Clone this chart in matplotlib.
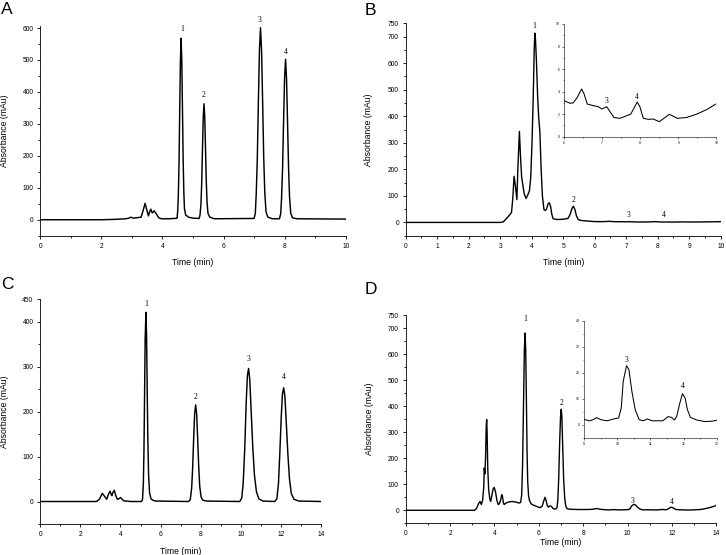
import matplotlib.pyplot as plt
from matplotlib.ticker import MultipleLocator

plt.rcParams['font.family'] = ['Liberation Sans', 'DejaVu Sans']

# ---- chromatogram A (time in min, absorbance in mAu) ----
tA = [0, 2.0, 2.4, 2.8, 2.9, 2.96, 3.05, 3.3, 3.37, 3.43, 3.49, 3.54, 3.58, 3.62,
      3.66, 3.68, 3.73, 3.80, 3.88, 3.97, 4.2, 4.4,
      4.48, 4.50, 4.52, 4.543, 4.565, 4.588, 4.61, 4.632, 4.655, 4.678, 4.70, 4.72, 4.76, 4.85, 5.0,
      5.20, 5.23, 5.26, 5.285, 5.31, 5.335, 5.36, 5.385, 5.41, 5.435, 5.46, 5.49, 5.55, 5.7,
      7.0, 7.04, 7.07, 7.105, 7.14, 7.175, 7.21, 7.245, 7.28, 7.315, 7.35, 7.39, 7.45, 7.6,
      7.83, 7.87, 7.90, 7.932, 7.965, 7.998, 8.03, 8.062, 8.095, 8.128, 8.16, 8.20, 8.26, 8.4, 10.0]
yA = [0, 0, 1, 3, 5, 8, 5, 8, 30, 51, 30, 12, 25, 33,
      22, 22, 28, 18, 6, 3, 3, 4,
      5, 30, 77, 180, 345, 500, 568, 500, 345, 185, 85, 35, 15, 8, 5,
      4, 15, 49, 116, 221, 320, 363, 320, 221, 120, 55, 20, 8, 3,
      4, 20, 81, 190, 367, 530, 601, 530, 367, 195, 85, 25, 8, 3,
      3, 18, 68, 160, 306, 442, 502, 442, 306, 165, 72, 20, 6, 3, 2]
labA_x = [4.63, 5.34, 7.19, 8.05]
labA_y = [596, 390, 625, 524]

# ---- chromatogram B ----
tB = [0, 3.0, 3.1, 3.2, 3.3, 3.36, 3.40, 3.44, 3.48, 3.53, 3.56, 3.61, 3.64, 3.68,
      3.76, 3.82, 3.88, 3.93, 3.97, 4.01, 4.05, 4.08, 4.10, 4.12, 4.15, 4.19, 4.22, 4.26,
      4.30, 4.34, 4.39, 4.43, 4.47, 4.52, 4.56, 4.60, 4.64, 4.68, 4.8, 5.0, 5.15, 5.22,
      5.27, 5.32, 5.37, 5.42, 5.48, 5.6, 5.8,
      6.0, 6.16, 6.24, 6.35, 6.46, 6.52, 6.61, 6.77, 6.90, 6.99, 7.12, 7.21, 7.31, 7.47,
      7.62, 7.75, 7.83, 7.92, 7.99, 8.08, 8.21, 8.34, 8.50, 8.62, 8.76, 8.86, 8.97, 9.21,
      9.48, 9.74, 10.0]
yB = [0, 0, 2, 15, 28, 38, 90, 174, 140, 86, 200, 343, 260, 172,
      109, 90, 105, 120, 170, 300, 480, 650, 713, 690, 610, 470, 400, 340,
      200, 100, 48, 45, 50, 70, 74, 60, 30, 14, 11, 12, 15, 30,
      50, 61, 50, 25, 10, 7, 5,
      3.2, 2.96, 3.0, 3.5, 4.23, 3.85, 2.9, 2.75, 2.66, 2.46, 2.66, 2.2, 1.7, 1.63,
      1.83, 2.0, 2.5, 3.08, 2.66, 1.63, 1.54, 1.57, 1.33, 1.63, 1.98, 1.83, 1.63, 1.7,
      2.0, 2.4, 2.93]
labB_x = [4.08, 5.32, 7.08, 8.2]
labB_y = [741, 84, 28, 28]
insB_lab_x = [7.12, 7.92]
insB_lab_y = [3.2, 3.5]

# ---- chromatogram C ----
tC = [0, 2.8, 2.95, 3.09, 3.2, 3.31, 3.40, 3.48, 3.53, 3.57, 3.62, 3.69, 3.76, 3.84,
      3.92, 4.0, 4.08, 4.17, 4.5, 5.0,
      5.05, 5.10, 5.14, 5.17, 5.20, 5.23, 5.27, 5.30, 5.33, 5.36, 5.40, 5.45, 5.52, 5.65, 5.8,
      7.40, 7.48, 7.55, 7.60, 7.65, 7.70, 7.75, 7.80, 7.85, 7.90, 7.95, 8.02, 8.10, 8.3,
      9.95, 10.05, 10.12, 10.20, 10.27, 10.33, 10.39, 10.45, 10.52, 10.60, 10.68, 10.78, 10.90, 11.1,
      11.70, 11.80, 11.88, 11.95, 12.02, 12.08, 12.14, 12.20, 12.27, 12.35, 12.43, 12.52, 12.65, 12.9, 14.0]
yC = [0, 0, 5, 18, 12, 5, 16, 23, 16, 13, 20, 25, 14, 5,
      6, 9, 5, 1.5, 0, 0,
      0, 5, 40, 110, 230, 360, 421, 370, 260, 150, 60, 20, 6, 2, 1,
      0, 4, 30, 75, 140, 195, 215, 195, 140, 80, 35, 10, 3, 1,
      0, 8, 40, 120, 220, 280, 296, 270, 200, 120, 60, 22, 6, 1,
      0, 6, 40, 110, 190, 240, 253, 235, 175, 105, 50, 18, 5, 1, 0]
labC_x = [5.3, 7.75, 10.39, 12.14]
labC_y = [439, 233, 317, 278]

# ---- chromatogram D ----
tD = [0, 3.1, 3.2, 3.28, 3.35, 3.41, 3.47, 3.52, 3.54, 3.57, 3.60, 3.63, 3.65, 3.67,
      3.70, 3.74, 3.79, 3.83, 3.88, 3.94, 3.99, 4.05, 4.12, 4.17, 4.22, 4.28, 4.33, 4.36,
      4.40, 4.44, 4.52, 4.65, 4.80, 4.95, 5.10, 5.18, 5.23, 5.27, 5.31, 5.35, 5.38, 5.41,
      5.44, 5.47, 5.50, 5.54, 5.58, 5.65, 5.75, 5.90, 6.05, 6.15, 6.22, 6.28, 6.33, 6.38,
      6.43, 6.46, 6.52, 6.57, 6.63, 6.70, 6.76, 6.82, 6.86, 6.90, 6.94, 6.98, 7.01, 7.04,
      7.08, 7.12, 7.17, 7.22, 7.28, 7.4, 7.8, 8.2, 8.45, 8.6, 8.75,
      9.03, 9.17, 9.27, 9.38, 9.51, 9.70, 9.89, 10.04, 10.12, 10.18, 10.28, 10.35, 10.44,
      10.54, 10.66, 10.79, 10.90, 11.05, 11.37, 11.53, 11.63, 11.72, 11.79, 11.87, 11.96,
      12.04, 12.11, 12.20, 12.39, 12.63, 12.83, 13.0, 13.3, 13.6, 13.85, 14.0]
yD = [0, 0, 8, 25, 34, 22, 40, 90, 162, 140, 200, 320, 349, 300,
      160, 80, 45, 34, 55, 82, 88, 70, 35, 22, 25, 40, 60, 55,
      30, 22, 28, 32, 34, 32, 28, 30, 60, 180, 400, 620, 681, 620,
      430, 230, 110, 55, 38, 25, 20, 15, 10, 15, 35, 50, 38, 18,
      12, 15, 17, 15, 8, 5, 5, 10, 40, 130, 260, 360, 388, 360,
      240, 120, 45, 15, 6, 4, 3, 3, 4, 7, 4,
      1.9, 1.5, 1.9, 2.7, 1.9, 1.5, 2.2, 2.6, 6.4, 16.7, 22.7, 21.2, 12.8,
      5.8, 1.9, 1.5, 2.2, 1.5, 1.5, 3.1, 2.8, 1.8, 3.2, 7.7, 11.9,
      10.3, 5.8, 2.8, 1.8, 1.2, 1.3, 1.7, 3, 8, 14, 19]
labD_x = [5.39, 7.03, 10.24, 12.0]
labD_y = [736, 413, 37, 31]
insD_lab_x = [10.28, 11.98]
insD_lab_y = [25, 14.7]

peak_names = ['1', '2', '3', '4']


def style(ax, xmaj, xmin, ymaj, ymin, size=4.8, lw=0.6):
    ax.spines['top'].set_visible(False)
    ax.spines['right'].set_visible(False)
    ax.spines['left'].set_linewidth(lw)
    ax.spines['bottom'].set_linewidth(lw)
    ax.xaxis.set_major_locator(MultipleLocator(xmaj))
    ax.xaxis.set_minor_locator(MultipleLocator(xmin))
    if ymaj is not None:
        ax.yaxis.set_major_locator(MultipleLocator(ymaj))
    ax.yaxis.set_minor_locator(MultipleLocator(ymin))
    ax.tick_params(which='major', direction='out', length=2.4, width=lw,
                   labelsize=size, pad=2.5)
    ax.tick_params(which='minor', direction='out', length=1.4, width=lw)


def labels(ax, xs, ys, names, size=5.5):
    for x, y, s in zip(xs, ys, names):
        ax.text(x, y, s, ha='center', va='center', fontsize=size,
                family=['Liberation Serif', 'DejaVu Serif'])


fig = plt.figure(figsize=(7.26, 5.55), dpi=100)

# panel A
axA = fig.add_axes([0.0555, 0.5753, 0.4207, 0.3771])
axA.plot(tA, yA, color='black', lw=1.05)
axA.set_xlim(0, 10)
axA.set_ylim(-50, 605)
style(axA, 2, 1, 100, 50)
axA.set_yticks([0, 100, 200, 300, 400, 500, 600])
labels(axA, labA_x, labA_y, peak_names)

# panel B
axB = fig.add_axes([0.5588, 0.5753, 0.4339, 0.3827])
axB.plot(tB, yB, color='black', lw=1.0)
axB.set_xlim(0, 10)
axB.set_ylim(-50, 750)
style(axB, 1, 0.5, None, 50)
axB.set_yticks([0, 100, 200, 300, 400, 500, 600, 700, 750])
labels(axB, labB_x, labB_y, peak_names)

insB = fig.add_axes([0.7769, 0.7537, 0.2100, 0.2031])
insB.plot(tB, yB, color='black', lw=0.75)
insB.set_xlim(6, 10)
insB.set_ylim(0, 10)
style(insB, 1, 0.5, 2, 1, size=2.4, lw=0.4)
insB.tick_params(which='major', length=1.5, pad=1.5)
insB.tick_params(which='minor', length=0.8)
labels(insB, insB_lab_x, insB_lab_y, ['3', '4'])

# panel C
axC = fig.add_axes([0.0555, 0.0559, 0.3866, 0.4049])
axC.plot(tC, yC, color='black', lw=1.05)
axC.set_xlim(0, 14)
axC.set_ylim(-50, 450)
style(axC, 2, 1, None, 50)
axC.set_yticks([0, 100, 200, 300, 400, 450])
labels(axC, labC_x, labC_y, peak_names)

# panel D
axD = fig.add_axes([0.5588, 0.0571, 0.4278, 0.3753])
axD.plot(tD, yD, color='black', lw=1.0)
axD.set_xlim(0, 14)
axD.set_ylim(-50, 750)
style(axD, 2, 1, None, 50)
axD.set_yticks([0, 100, 200, 300, 400, 500, 600, 700, 750])
labels(axD, labD_x, labD_y, peak_names)

insD = fig.add_axes([0.8044, 0.2114, 0.1832, 0.2108])
insD.plot(tD, yD, color='black', lw=0.75)
insD.set_xlim(9, 13)
insD.set_ylim(-5, 40)
style(insD, 1, 0.5, 10, 5, size=2.4, lw=0.4)
insD.tick_params(which='major', length=1.5, pad=1.5)
insD.tick_params(which='minor', length=0.8)
labels(insD, insD_lab_x, insD_lab_y, ['3', '4'])

# axis titles and panel letters
xlab_y = {'A': -0.108, 'B': -0.106, 'C': -0.101, 'D': -0.072}
ylab_x = {'A': -0.104, 'B': -0.104, 'C': -0.111, 'D': -0.103}
for name, ax in zip('ABCD', [axA, axB, axC, axD]):
    ax.set_xlabel('Time (min)', fontsize=6.2)
    ax.set_ylabel('Absorbance (mAu)', fontsize=6.2)
    ax.xaxis.set_label_coords(0.5, xlab_y[name])
    ax.yaxis.set_label_coords(ylab_x[name], 0.5)

fig.text(1 / 726, 1 - 1.5 / 555, 'A', fontsize=12.5, va='top', ha='left')
fig.text(365 / 726, 1 - 3 / 555, 'B', fontsize=12.5, va='top', ha='left')
fig.text(1 / 726, 1 - 277 / 555, 'C', fontsize=12.5, va='top', ha='left')
fig.text(365 / 726, 1 - 282 / 555, 'D', fontsize=12.5, va='top', ha='left')

fig.savefig('out.png', dpi=100)
